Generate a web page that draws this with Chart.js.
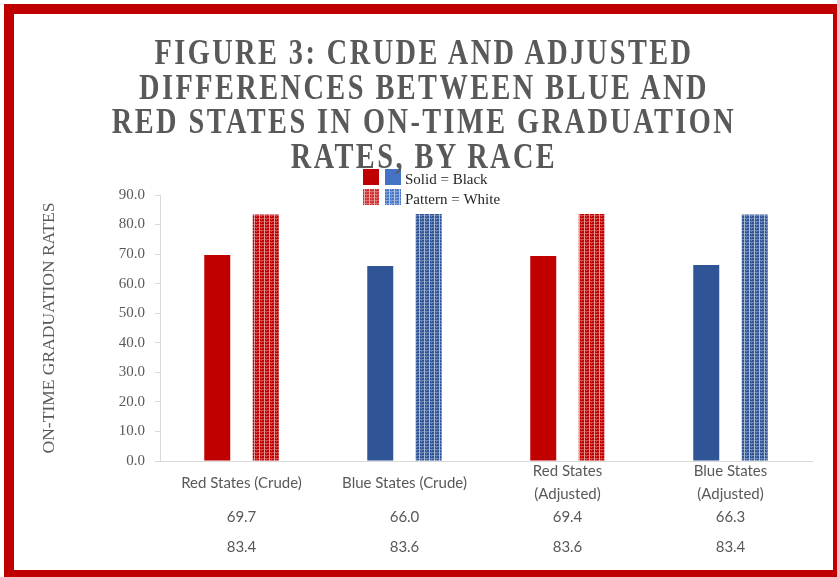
<!DOCTYPE html>
<html>
<head>
<meta charset="utf-8">
<script src="https://cdn.jsdelivr.net/npm/chart.js@4.4.1/dist/chart.umd.min.js"></script>
<style>
  html, body { margin: 0; padding: 0; background: #fff; }
  #wrap { position: relative; width: 837px; height: 577px; overflow: hidden; background: #fff; }
  #frame {
    position: absolute; left: 4px; top: 4px; width: 839px; height: 576px;
    border: 10px solid #c00000; box-sizing: border-box;
  }
  #title {
    position: absolute; left: 0; top: 36px; width: 848px;
    text-align: center; color: #595959;
    font: bold 35px/34.5px "Liberation Serif", "Times New Roman", serif;
    letter-spacing: 3px;
    transform: scaleX(0.81); transform-origin: 424px 0;
  }
  canvas { position: absolute; left: 0; top: 0; }
</style>
</head>
<body>
<div id="wrap">
  <canvas id="grafico" width="837" height="577"></canvas>
  <div id="frame"></div>
  <div id="title">FIGURE 3: CRUDE AND ADJUSTED<br>DIFFERENCES BETWEEN BLUE AND<br>RED STATES IN ON-TIME GRADUATION<br>RATES, BY RACE</div>
</div>
<script>
// categorias e valores (taxa de graduação no prazo)
const categories = [
  ["Red States (Crude)"],
  ["Blue States (Crude)"],
  ["Red States", "(Adjusted)"],
  ["Blue States", "(Adjusted)"],
];
const blackRates = [69.7, 66.0, 69.4, 66.3];
const whiteRates = [83.4, 83.6, 83.6, 83.4];
const yTicks = [0, 10, 20, 30, 40, 50, 60, 70, 80, 90];

const RED = "#c00000";
const BLUE = "#2f5597";

// textura "Pattern" das barras (fios verticais + pontilhado)
function makePattern(base) {
  const c = document.createElement("canvas");
  c.width = 5;
  c.height = 3;
  const g = c.getContext("2d");
  g.fillStyle = base;
  g.fillRect(0, 0, 5, 3);
  g.fillStyle = "rgba(255,255,255,0.6)";
  g.fillRect(4, 0, 1, 3);
  g.fillStyle = "rgba(255,255,255,0.3)";
  g.fillRect(0, 2, 4, 1);
  g.fillRect(1, 0, 1, 1);
  return g.createPattern(c, "repeat");
}
const redPattern = makePattern(RED);
const bluePattern = makePattern(BLUE);

const solidColors = [RED, BLUE, RED, BLUE];
const patternColors = [redPattern, bluePattern, redPattern, bluePattern];

// legenda manual no topo
const legendPlugin = {
  id: "legendaManual",
  afterDraw(chart) {
    const ctx = chart.ctx;
    ctx.save();
    ctx.fillStyle = RED;
    ctx.fillRect(363, 169, 16, 16);
    ctx.fillStyle = "#4472c4";
    ctx.fillRect(385, 169, 16, 16);
    ctx.fillStyle = makePattern("#d03030");
    ctx.fillRect(363, 189, 16, 16);
    ctx.fillStyle = makePattern("#4a78c8");
    ctx.fillRect(385, 189, 16, 16);
    ctx.fillStyle = "#262626";
    ctx.font = '15px "Liberation Serif"';
    ctx.textBaseline = "alphabetic";
    ctx.fillText("Solid = Black", 405, 184);
    ctx.fillText("Pattern = White", 405, 204);
    ctx.restore();
  },
};

// tabela de dados abaixo do eixo X
const tablePlugin = {
  id: "tabelaDados",
  afterDraw(chart) {
    const { ctx, scales: { x }, chartArea } = chart;
    const base = chartArea.bottom;
    ctx.save();
    ctx.font = '15px Lato';
    ctx.fillStyle = "#595959";
    ctx.textAlign = "center";
    ctx.textBaseline = "middle";
    categories.forEach((lines, i) => {
      const cx = x.getPixelForValue(i);
      const y0 = base + 22 - (lines.length - 1) * 11.5;
      lines.forEach((t, k) => ctx.fillText(t, cx, y0 + k * 23));
      ctx.fillText(blackRates[i].toFixed(1), cx, base + 56);
      ctx.fillText(whiteRates[i].toFixed(1), cx, base + 86);
    });
    ctx.restore();
  },
};

new Chart(document.getElementById("grafico"), {
  type: "bar",
  data: {
    labels: categories,
    datasets: [
      {
        label: "Black",
        data: blackRates,
        backgroundColor: solidColors,
        borderWidth: 0,
      },
      {
        label: "White",
        data: whiteRates,
        backgroundColor: patternColors,
        borderWidth: 0,
      },
    ],
  },
  options: {
    responsive: false,
    animation: false,
    layout: { padding: { left: 14, top: 195, right: 25, bottom: 0 } },
    datasets: { bar: { categoryPercentage: 0.595, barPercentage: 0.536 } },
    scales: {
      x: {
        ticks: { display: false },
        grid: { display: false },
        border: { color: "#d9d9d9" },
        afterFit(s) { s.height = 116; },
      },
      y: {
        min: 0,
        max: 90,
        afterBuildTicks(s) { s.ticks = yTicks.map(v => ({ value: v })); },
        ticks: {
          callback: v => v.toFixed(1),
          font: { family: "Liberation Serif", size: 15 },
          color: "#595959",
          padding: 10,
        },
        grid: { drawOnChartArea: false, tickLength: 5, color: "#d9d9d9" },
        border: { color: "#d9d9d9" },
        title: {
          display: true,
          text: "ON-TIME GRADUATION RATES",
          font: { family: "Liberation Serif", size: 17.5 },
          color: "#595959",
          padding: { top: 25 },
        },
        afterFit(s) { s.width = 146; },
      },
    },
    plugins: {
      legend: { display: false },
      tooltip: { enabled: false },
    },
  },
  plugins: [legendPlugin, tablePlugin],
});
</script>
</body>
</html>
